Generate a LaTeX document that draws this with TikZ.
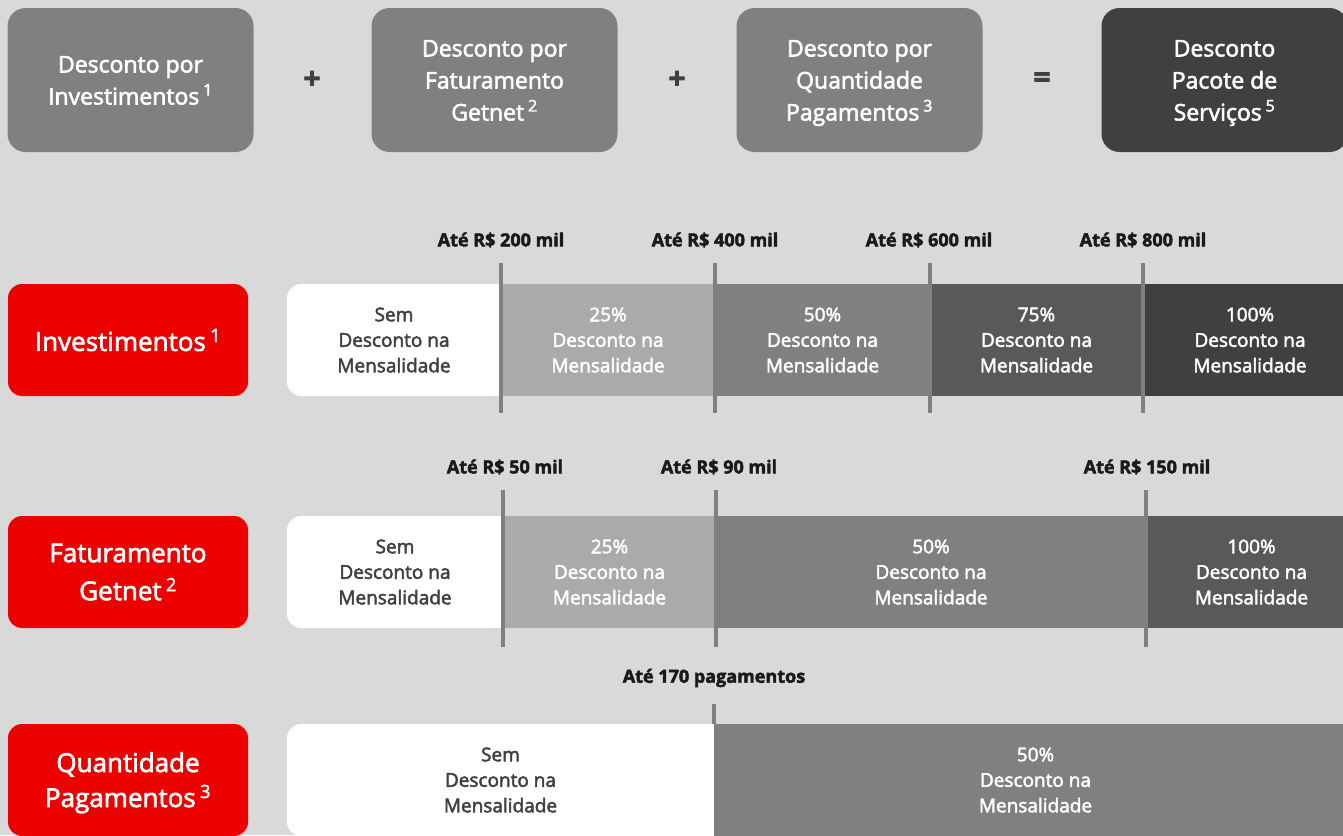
\documentclass[tikz,border=0pt]{standalone}
\usepackage{fontspec}
\setmainfont{Open Sans}[FakeBold=2.5]
\usepackage{xcolor}
\usetikzlibrary{backgrounds}
\definecolor{getnetRed}{RGB}{236, 0, 0}
\definecolor{canvasGray}{RGB}{217, 217, 217}
\definecolor{tierA}{RGB}{170, 170, 170}
\definecolor{tierB}{RGB}{128, 128, 128}
\definecolor{tierC}{RGB}{89, 89, 89}
\definecolor{tierD}{RGB}{64, 64, 64}
\definecolor{inkGray}{RGB}{64, 64, 64}
\definecolor{inkBlack}{RGB}{26, 26, 26}
\newcommand{\supnum}[1]{\,\textsuperscript{#1}}

\begin{document}
\begin{tikzpicture}[x=1pt, y=-1pt]
            \tikzstyle{headbox} = [fill=tierB, rounded corners=18pt, minimum width=246pt, minimum height=144pt, inner sep=0pt, text=white, align=center, text height=81pt, text depth=0pt, font=\fontsize{23}{32}\selectfont]
            \tikzstyle{rowbox} = [fill=getnetRed, rounded corners=14pt, minimum width=240pt, minimum height=112pt, inner sep=0pt, text=white, align=center, font=\fontsize{26}{38}\selectfont]
            \tikzstyle{seg} = [minimum height=112pt, inner sep=0pt, text=white, align=center, font=\fontsize{19}{25.5}\selectfont]
            \tikzstyle{nodisc} = [seg, fill=white, text=inkGray, rounded corners=14pt]
            \tikzstyle{sign} = [text=inkGray, font=\fontsize{30}{30}\selectfont\bfseries]
            \tikzstyle{limit} = [text=inkBlack, font=\fontsize{18}{18}\selectfont\bfseries]
            \tikzstyle{tick} = [draw=tierB, line width=4pt]

            \useasboundingbox (0,0) rectangle (1343,835);
            \begin{scope}[on background layer]
                \fill[canvasGray] (0,0) rectangle (1343,835);
            \end{scope}

            % formula on top
            \node[headbox, text height=49pt] (hinv) at (130.5,80) {Desconto por\\Investimentos\supnum{1}};
            \node[sign] (plusa) at (312,80) {+};
            \node[headbox] (hfat) at (494.5,80) {Desconto por\\Faturamento\\Getnet\supnum{2}};
            \node[sign] (plusb) at (677,80) {+};
            \node[headbox] (hqtd) at (859.5,80) {Desconto por\\Quantidade\\Pagamentos\supnum{3}};
            \node[sign] (equal) at (1042,80) {=};
            \node[headbox, fill=tierD] (hpac) at (1224.5,80) {Desconto\\Pacote de\\Serviços\supnum{5}};

            % investimentos
            \node[rowbox] (rinv) at (128,340) {Investimentos\supnum{1}};
            \node[nodisc, minimum width=214pt] (inv0) at (394,340) {Sem\\Desconto na\\Mensalidade};
            \node[seg, fill=tierA, minimum width=214pt] (inv1) at (608,340) {25\%\\Desconto na\\Mensalidade};
            \node[seg, fill=tierB, minimum width=215pt] (inv2) at (822.5,340) {50\%\\Desconto na\\Mensalidade};
            \node[seg, fill=tierC, minimum width=213pt] (inv3) at (1036.5,340) {75\%\\Desconto na\\Mensalidade};
            \node[seg, fill=tierD, minimum width=214pt] (inv4) at (1250,340) {100\%\\Desconto na\\Mensalidade};

            \node[limit] (lim200) at (501,240) {Até R\$ 200 mil};
            \node[limit] (lim400) at (715,240) {Até R\$ 400 mil};
            \node[limit] (lim600) at (929,240) {Até R\$ 600 mil};
            \node[limit] (lim800) at (1143,240) {Até R\$ 800 mil};
            \draw[tick] (inv1.north west) ++(0,-21) -- ++(0,150);
            \draw[tick] (inv2.north west) ++(0,-21) -- ++(0,150);
            \draw[tick] (inv3.north west) ++(0,-21) -- ++(0,150);
            \draw[tick] (inv4.north west) ++(0,-21) -- ++(0,150);

            % faturamento
            \node[rowbox] (rfat) at (128,572) {Faturamento\\Getnet\supnum{2}};
            \node[nodisc, minimum width=216pt] (fat0) at (395,572) {Sem\\Desconto na\\Mensalidade};
            \node[seg, fill=tierA, minimum width=213pt] (fat1) at (609.5,572) {25\%\\Desconto na\\Mensalidade};
            \node[seg, fill=tierB, minimum width=430pt] (fat2) at (931,572) {50\%\\Desconto na\\Mensalidade};
            \node[seg, fill=tierC, minimum width=211pt] (fat3) at (1251.5,572) {100\%\\Desconto na\\Mensalidade};

            \node[limit] (lim50) at (505,467) {Até R\$ 50 mil};
            \node[limit] (lim90) at (719,467) {Até R\$ 90 mil};
            \node[limit] (lim150) at (1147,467) {Até R\$ 150 mil};
            \draw[tick] (fat1.north west) ++(0,-26) -- ++(0,157);
            \draw[tick] (fat2.north west) ++(0,-26) -- ++(0,157);
            \draw[tick] (fat3.north west) ++(0,-26) -- ++(0,157);

            % quantidade
            \node[rowbox, text height=54pt, text depth=0pt, font=\fontsize{26}{35}\selectfont] (rqtd) at (128,780) {Quantidade\\Pagamentos\supnum{3}};
            \node[nodisc, minimum width=427pt] (qtd0) at (500.5,780) {Sem\\Desconto na\\Mensalidade};
            \node[seg, fill=tierB, minimum width=643pt] (qtd1) at (1035.5,780) {50\%\\Desconto na\\Mensalidade};

            \node[limit] (lim170) at (714,678) {Até 170 pagamentos};
            \draw[tick] (qtd1.north west) ++(0,-20) -- ++(0,20);

            \begin{scope}[on background layer]
                \fill[white] (inv0.north) rectangle (inv0.south east);
                \fill[white] (fat0.north) rectangle (fat0.south east);
                \fill[white] (qtd0.north) rectangle (qtd0.south east);
            \end{scope}
        \end{tikzpicture}
\end{document}
